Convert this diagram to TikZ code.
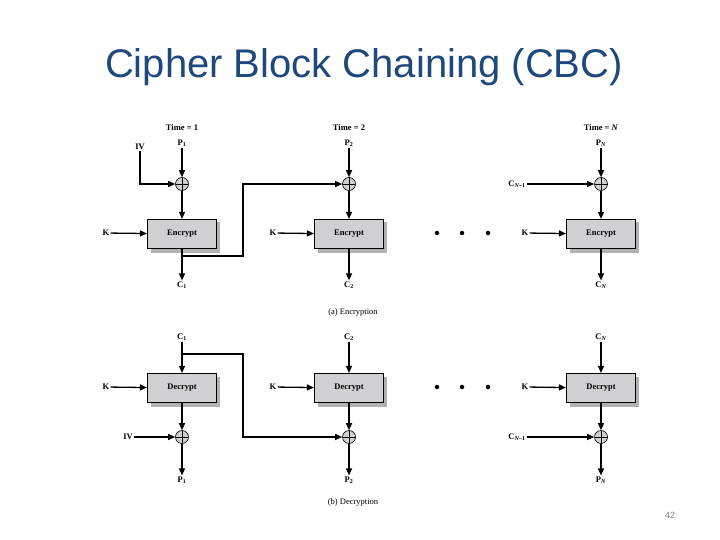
\documentclass[tikz,border=0pt]{standalone}
\usepackage{fontspec}
\setmainfont{Liberation Serif}
\newfontfamily\titlefont{Liberation Sans}
\usetikzlibrary{arrows.meta}
\definecolor{titleblue}{RGB}{31,73,125}
\definecolor{boxgray}{RGB}{208,208,210}
\newcommand{\sbx}[1]{\textsubscript{#1}}
\begin{document}
\begin{tikzpicture}[x=1pt,y=-1pt,
  lbl/.style={font=\bfseries\fontsize{8.5}{10}\selectfont, inner sep=1pt},
  blk/.style={draw, line width=1.1pt, fill=boxgray, minimum width=69pt, minimum height=29pt,
     font=\bfseries\fontsize{8.5}{10}\selectfont},
  xor/.style={circle, draw, fill=boxgray, minimum size=13pt, inner sep=0pt, line width=0.6pt,
     path picture={\draw[line width=0.6pt] (path picture bounding box.north) -- (path picture bounding box.south)
       (path picture bounding box.west) -- (path picture bounding box.east);}},
  ar/.style={-{Triangle[length=7pt,width=6pt]}, line width=1.3pt},
  dot/.style={circle, fill, inner sep=0pt, minimum size=4.5pt}]
\useasboundingbox (0,0) rectangle (720,540);
\node[font=\titlefont\fontsize{40}{46}\selectfont, text=titleblue] (title) at (364,67) {Cipher Block Chaining (CBC)};
\node[font=\titlefont\fontsize{9}{10}\selectfont, text=gray] (pg) at (670,515) {42};
% shadows
\foreach \x in {182,349,601}{
  \fill[gray!60] (\x-31.5,222.5) rectangle (\x+37.5,252.5);
  \fill[gray!60] (\x-31.5,376.5) rectangle (\x+37.5,406.5);
}
% ---- Encryption ----
\node[lbl] (t1) at (182,128) {Time = 1};
\node[lbl] (t2) at (349,128) {Time = 2};
\node[lbl] (t3) at (601,128) {Time = \textit{N}};
\node[lbl] (p1) at (182,143) {P\sbx{1}};
\node[lbl] (p2) at (349,143) {P\sbx{2}};
\node[lbl] (pn) at (601,143) {P\sbx{\textit{N}}};
\node[lbl] (iv) at (140,147) {IV};
\node[lbl] (cn1) at (517,184) {C\sbx{\textit{N}–1}};
\node[xor] (x1) at (182,184) {};
\node[xor] (x2) at (349,184) {};
\node[xor] (x3) at (601,184) {};
\node[blk] (e1) at (182,234) {Encrypt};
\node[blk] (e2) at (349,234) {Encrypt};
\node[blk] (e3) at (601,234) {Encrypt};
\node[lbl] (k1) at (106,233) {K};
\node[lbl] (k2) at (273,233) {K};
\node[lbl] (k3) at (525,233) {K};
\node[lbl] (c1) at (182,285) {C\sbx{1}};
\node[lbl] (c2) at (349,285) {C\sbx{2}};
\node[lbl] (cn) at (601,285) {C\sbx{\textit{N}}};
\node[dot] (d1) at (437,233) {}; \node[dot] (d2) at (462,233) {}; \node[dot] (d3) at (488,233) {};
\node[lbl, font=\fontsize{8.5}{10}\selectfont] (capa) at (353,312) {(a) Encryption};
\foreach \p/\x/\e/\c in {p1/x1/e1/c1,p2/x2/e2/c2,pn/x3/e3/cn}{
  \draw[ar] (\p) -- (\x);
  \draw[ar] (\x) -- (\e);
  \draw[ar] (\e) -- (\c);
}
\foreach \k/\e in {k1/e1,k2/e2,k3/e3} \draw[ar] (\k) -- (\e);
\draw[ar] (iv.south) |- (x1);
\draw[ar] (cn1) -- (x3);
\coordinate (ch1) at (182,256);
\draw[ar] (ch1) -| (243,184) -- (x2);
% ---- Decryption ----
\node[lbl] (dc1) at (182,337) {C\sbx{1}};
\node[lbl] (dc2) at (349,337) {C\sbx{2}};
\node[lbl] (dcn) at (601,337) {C\sbx{\textit{N}}};
\node[blk] (de1) at (182,388) {Decrypt};
\node[blk] (de2) at (349,388) {Decrypt};
\node[blk] (de3) at (601,388) {Decrypt};
\node[lbl] (dk1) at (106,387) {K};
\node[lbl] (dk2) at (273,387) {K};
\node[lbl] (dk3) at (525,387) {K};
\node[dot] (e1d) at (437,387) {}; \node[dot] (e2d) at (462,387) {}; \node[dot] (e3d) at (488,387) {};
\node[xor] (dx1) at (182,437) {};
\node[xor] (dx2) at (349,437) {};
\node[xor] (dx3) at (601,437) {};
\node[lbl] (div) at (128,437) {IV};
\node[lbl] (dcn1) at (517,437) {C\sbx{\textit{N}–1}};
\node[lbl] (dp1) at (182,480) {P\sbx{1}};
\node[lbl] (dp2) at (349,480) {P\sbx{2}};
\node[lbl] (dpn) at (601,480) {P\sbx{\textit{N}}};
\node[lbl, font=\fontsize{8.5}{10}\selectfont] (capb) at (353,502) {(b) Decryption};
\foreach \c/\e/\x/\p in {dc1/de1/dx1/dp1,dc2/de2/dx2/dp2,dcn/de3/dx3/dpn}{
  \draw[ar] (\c) -- (\e);
  \draw[ar] (\e) -- (\x);
  \draw[ar] (\x) -- (\p);
}
\foreach \k/\e in {dk1/de1,dk2/de2,dk3/de3} \draw[ar] (\k) -- (\e);
\draw[ar] (div) -- (dx1);
\draw[ar] (dcn1) -- (dx3);
\coordinate (ch2) at (182,354);
\draw[ar] (ch2) -| (243,437) -- (dx2);
\end{tikzpicture}
\end{document}
